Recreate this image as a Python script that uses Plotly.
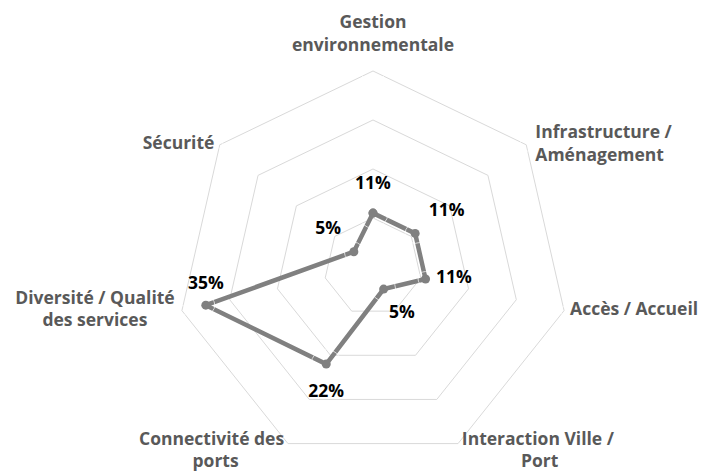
import plotly.graph_objects as go

categories = [
    "Gestion environnementale",
    "Infrastructure / Aménagement",
    "Accès / Accueil",
    "Interaction Ville / Port",
    "Connectivité des ports",
    "Diversité / Qualité des services",
    "Sécurité",
]
values = [0.11, 0.11, 0.11, 0.05, 0.22, 0.35, 0.05]
value_labels = ["11%", "11%", "11%", "5%", "22%", "35%", "5%"]

R_MAX = 0.4      # outer ring
R_AXIS = 0.42    # a bit of head room so captions can sit past the ring
LINE = "#808080"
GRID = "#d9d9d9"
FONT = "Open Sans"
NB = "\u00a0"

# category captions as Excel wraps them; nbsp padding keeps the short
# second line roughly centred under the first one
cat_text = [
    "Gestion<br>environnementale",
    "Infrastructure /<br>Aménagement",
    "Accès / Accueil",
    "Interaction Ville /<br>" + NB * 13 + "Port",
    "Connectivité des<br>ports" + NB * 10,
    "Diversité / Qualité<br>des services" + NB * 6,
    "Sécurité",
]
cat_pos = ["top center", "middle right", "middle right", "middle right",
           "middle left", "middle left", "middle left"]
# the two bottom captions hang a little lower, like Excel's
cat_r = [R_MAX, R_MAX, R_MAX, R_MAX * 1.045, R_MAX * 1.045, R_MAX, R_MAX]
val_pos = ["top center", "top right", "middle right", "bottom center",
           "bottom center", "top center", "top left"]
val_text = list(value_labels)
val_text[3] = NB * 8 + val_text[3]   # nudge the 5% label to the right

fig = go.Figure()

# closed outline with markers
fig.add_trace(go.Scatterpolar(
    r=values + values[:1],
    theta=categories + categories[:1],
    mode="lines+markers",
    line={"color": LINE, "width": 4.5},
    marker={"color": LINE, "size": 9},
    showlegend=False,
    hoverinfo="skip",
))

# data labels, pushed out by invisible markers
fig.add_trace(go.Scatterpolar(
    r=values,
    theta=categories,
    mode="markers+text",
    marker={"color": "rgba(0,0,0,0)", "size": [30, 20, 15, 24, 30, 18, 19]},
    text=val_text,
    textposition=val_pos,
    textfont={"family": FONT, "size": 17.5, "color": "#000000", "weight": "bold"},
    cliponaxis=False,
    showlegend=False,
    hoverinfo="skip",
))

# category captions sitting just outside the outer ring
fig.add_trace(go.Scatterpolar(
    r=cat_r,
    theta=categories,
    mode="markers+text",
    marker={"color": "rgba(0,0,0,0)", "size": [24, 13, 8, 0, 0, 10, 7]},
    text=cat_text,
    textposition=cat_pos,
    textfont={"family": FONT, "size": 17.5, "color": "#595959", "weight": "bold"},
    cliponaxis=False,
    showlegend=False,
    hoverinfo="skip",
))

# the page body has an 8px margin, so the domain is nudged up/left
fig.update_layout(
    width=706,
    height=472,
    margin={"l": 0, "r": 0, "t": 0, "b": 0},
    paper_bgcolor="white",
    plot_bgcolor="white",
    polar={
        "domain": {"x": [0.2255, 0.8085], "y": [0.01525, 0.8873]},
        "gridshape": "linear",
        "bgcolor": "white",
        "radialaxis": {
            "range": [0, R_AXIS],
            "tickvals": [0.1, 0.2, 0.3, R_MAX],
            "showticklabels": False,
            "ticks": "",
            "showline": False,
            "gridcolor": GRID,
            "gridwidth": 1,
        },
        "angularaxis": {
            "direction": "clockwise",
            "rotation": 90,
            "showgrid": False,
            "showline": False,
            "ticks": "",
            "showticklabels": False,
        },
    },
)

fig.write_html("out.html")
